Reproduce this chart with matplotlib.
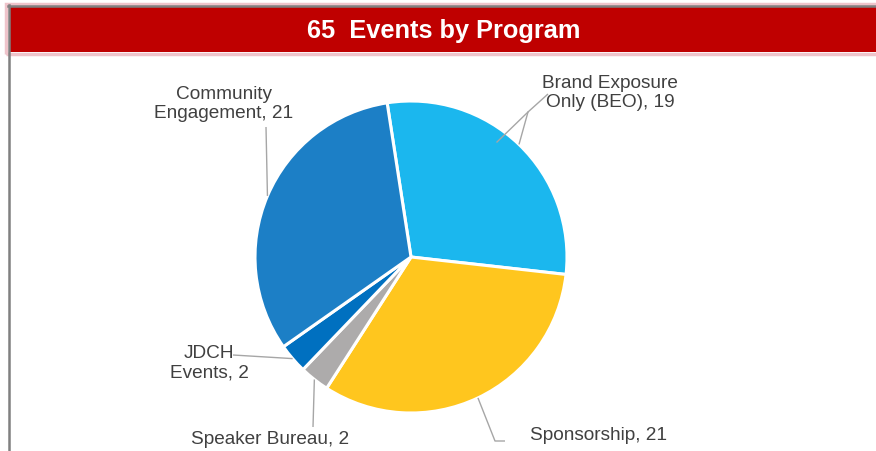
import numpy as np
import matplotlib.pyplot as plt
from matplotlib.patches import Rectangle

plt.rcParams['font.family'] = ['Liberation Sans', 'DejaVu Sans']

# data
programs = ['Brand Exposure\nOnly (BEO)', 'Sponsorship', 'Speaker Bureau', 'JDCH\nEvents', 'Community\nEngagement']
counts = [19, 21, 2, 2, 21]
colors = ['#1BB7EE', '#FFC61E', '#ADABAB', '#0070C0', '#1C7FC6']
title = '65  Events by Program'

W, H = 876, 451
fig = plt.figure(figsize=(W / 100, H / 100), dpi=100)
ax = fig.add_axes([0, 0, 1, 1])

def py(y):
    # pixel row (from top) -> data y
    return H - y

cx, cy, r = 411, py(257), 156
wedges, _ = ax.pie(counts, colors=colors, startangle=98.8, counterclock=False,
                   center=(cx, cy), radius=r,
                   wedgeprops=dict(edgecolor='white', linewidth=2.2))
ax.set_xlim(0, W)
ax.set_ylim(0, H)
ax.set_aspect('auto')
ax.axis('off')

# label placement (text centre, leader elbow points)
label_pos = [(610, 93), (598, 435), (270, 440), (209, 363), (224, 104)]
leaders = [
    [(528, 112), (548, 94)],
    [(495, 441), (505, 441)],
    [(313, 427)],
    [(233, 355)],
    [(266, 127)],
]
txt = '#404040'
for w, name, n, (lx, ly), pts in zip(wedges, programs, counts, label_pos, leaders):
    mid = np.deg2rad((w.theta1 + w.theta2) / 2)
    sx, sy = cx + r * np.cos(mid), cy + r * np.sin(mid)
    xs = [sx] + [p[0] for p in pts]
    ys = [sy] + [py(p[1]) for p in pts]
    ax.plot(xs, ys, color='#A6A6A6', lw=1.0, solid_capstyle='butt')
    ax.text(lx, py(ly), f'{name}, {n}', ha='center', va='center',
            fontsize=13.7, color=txt, linespacing=1.2)

# extra leader branch on BEO as drawn in the original
ax.plot([528, 497], [py(112), py(142)], color='#A6A6A6', lw=1.0)

# header band and frame
ax.add_patch(Rectangle((6, py(54)), W, 50, facecolor='none', edgecolor='#EFC4CB', lw=2.5, zorder=3))
ax.add_patch(Rectangle((10, py(52)), W, 45, facecolor='#BF0000', edgecolor='none', zorder=4))
ax.plot([8, W], [py(6), py(6)], color='#808080', lw=1.8, zorder=5)
ax.plot([9, 9], [py(5), 0], color='#808080', lw=1.8, zorder=5)
ax.text(444, py(31), title, ha='center', va='center', fontsize=18.3,
        fontweight='bold', color='white', zorder=6)

fig.savefig('out.png', dpi=100)
